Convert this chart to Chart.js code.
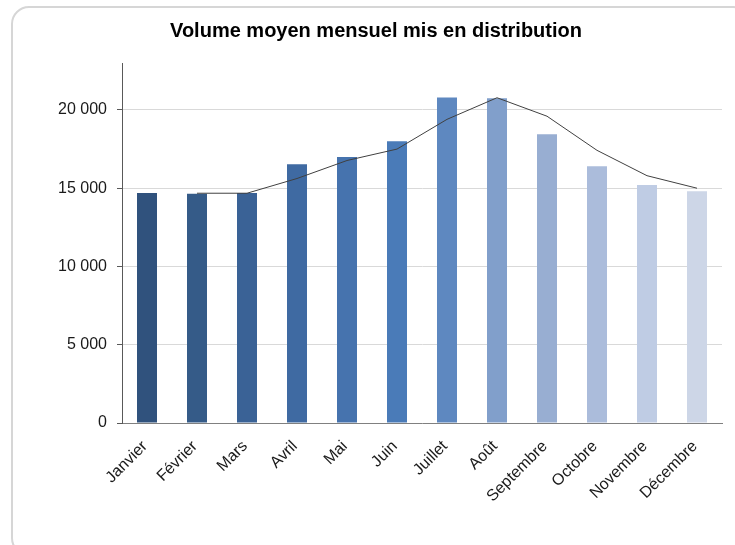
<!DOCTYPE html>
<html>
<head>
<meta charset="utf-8">
<script src="https://cdn.jsdelivr.net/npm/chart.js@4"></script>
<style>
  html, body { margin: 0; padding: 0; background: #fff; }
  #card {
    position: absolute; left: 11px; top: 6px; width: 740px; height: 550px;
    border: 2px solid #d6d6d6; border-radius: 18px; box-sizing: border-box;
  }
  #wrap { position: absolute; left: 0; top: 0; width: 735px; height: 545px; }
</style>
</head>
<body>
<div id="card"></div>
<div id="wrap"><canvas id="chart" width="735" height="545"></canvas></div>
<script>
/* Data */
const months = ['Janvier', 'Février', 'Mars', 'Avril', 'Mai', 'Juin', 'Juillet', 'Août',
  'Septembre', 'Octobre', 'Novembre', 'Décembre'];
const volumes = [14700, 14650, 14700, 16530, 17000, 18000, 20800, 20750, 18450, 16400, 15200, 14800];
const trend = [null, 14680, 14680, 15620, 16770, 17500, 19400, 20780, 19600, 17420, 15800, 15000];
const yTicks = [0, 5000, 10000, 15000, 20000];
const barColors = ['#30527D', '#355B88', '#3A6296', '#3F6AA2', '#4673AE', '#4A7BB8',
  '#5E88C0', '#819FCB', '#98AED2', '#ABBCDB', '#BFCCE4', '#CDD6E7'];

const font = 'Liberation Sans, Arial, sans-serif';

function spaced(v) {
  return String(v).replace(/\B(?=(\d{3})+(?!\d))/g, ' ');
}

/* Chart */
new Chart(document.getElementById('chart'), {
  type: 'bar',
  data: {
    labels: months,
    datasets: [
      {
        type: 'line',
        data: trend,
        borderColor: '#404040',
        borderWidth: 1,
        pointRadius: 0,
        tension: 0,
        order: 0
      },
      {
        data: volumes,
        backgroundColor: barColors,
        barPercentage: 0.4,
        categoryPercentage: 1,
        order: 1
      }
    ]
  },
  options: {
    responsive: false,
    animation: false,
    layout: { padding: { left: 30, right: 13, top: 0, bottom: 0 } },
    plugins: {
      legend: { display: false },
      tooltip: { enabled: false },
      title: {
        display: true,
        text: 'Volume moyen mensuel mis en distribution',
        color: '#000',
        font: { family: font, size: 20, weight: 'bold', lineHeight: 1.2 },
        padding: { top: 19, bottom: 20 }
      }
    },
    scales: {
      x: {
        grid: { display: false },
        border: { color: '#808080', width: 1 },
        ticks: {
          color: '#1a1a1a',
          font: { family: font, size: 16 },
          maxRotation: 45,
          minRotation: 45,
          padding: 6,
          labelOffset: -2
        },
        afterFit: s => { s.height = 122; }
      },
      y: {
        min: 0,
        max: 23000,
        grid: { color: '#d9d9d9', tickLength: 5, tickColor: '#595959' },
        border: { color: '#595959', width: 1 },
        ticks: {
          color: '#1a1a1a',
          font: { family: font, size: 16 },
          padding: 10,
          callback: v => spaced(v)
        },
        afterBuildTicks: s => { s.ticks = yTicks.map(v => ({ value: v })); },
        afterFit: s => { s.width = 92; }
      }
    }
  }
});
</script>
</body>
</html>
